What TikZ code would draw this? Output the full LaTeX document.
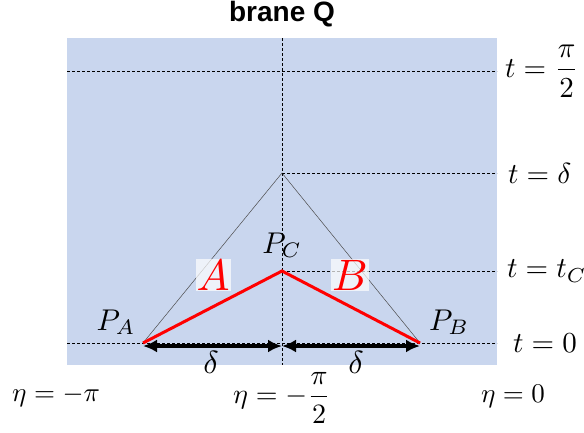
\documentclass[tikz,border=0pt]{standalone}
\usepackage{amsmath}
\usepackage{graphicx}
\usepackage{fontspec}
\newfontfamily\titlefont{Liberation Sans}
\usetikzlibrary{arrows.meta}
\definecolor{bgblue}{RGB}{201,214,238}
\newcommand{\myscm}[2]{\scalebox{#1}{$#2$}}
\tikzset{
  guide/.style={draw=black, line width=0.8pt, dash pattern=on 3pt off 2pt},
  cone/.style={draw=black!70, line width=0.5pt},
  redpath/.style={draw=red, line width=3pt},
  dimarrow/.style={draw=black, line width=3.2pt, {Latex[length=14pt,width=13pt]}-{Latex[length=14pt,width=13pt]}},
  tlabel/.style={anchor=west, inner sep=0pt},
  etalabel/.style={inner sep=0pt},
  plabel/.style={inner sep=0pt},
  seglabel/.style={text=red, fill=white, fill opacity=0.7, text opacity=1, inner sep=1pt},
  dlabel/.style={inner sep=0pt}
}
\begin{document}
\begin{tikzpicture}[x=1pt, y=-1pt]
\useasboundingbox (0,0) rectangle (584,432);
% background
\fill[bgblue] (67,38) rectangle (497,365);
% coordinates
\coordinate (PA) at (143,343);
\coordinate (PB) at (420,343);
\coordinate (PC) at (282,271);
\coordinate (apex) at (282,173);
\coordinate (vtop) at (282,38);
\coordinate (vbot) at (282,365);
\coordinate (h1l) at (67,71);
\coordinate (h1r) at (497,71);
\coordinate (h2r) at (497,173);
\coordinate (h3r) at (497,271);
\coordinate (h4l) at (67,343);
\coordinate (h4r) at (497,343);
\coordinate (aL) at (143,346);
\coordinate (aM) at (282,346);
\coordinate (aR) at (420,346);
% title
\node[font=\titlefont\bfseries\fontsize{28}{32}\selectfont, inner sep=0pt] (title) at (282,14) {brane Q};
% light cone
\draw[cone] (PA) -- (apex) -- (PB);
% arrows
\draw[dimarrow] (aL) -- (aM);
\draw[dimarrow] (aM) -- (aR);
% guides
\draw[guide] (vtop) -- (vbot);
\draw[guide] (h1l) -- (h1r);
\draw[guide] (apex) -- (h2r);
\draw[guide] (PC) -- (h3r);
\draw[guide] (h4l) -- (h4r);
% red path
\draw[redpath, line join=miter] (PA) -- (PC) -- (PB);
% labels
\node[seglabel] (labA) at (213,275) {\myscm{4.4}{A}};
\node[seglabel] (labB) at (350,275) {\myscm{4.4}{B}};
\node[plabel] (lPA) at (116,322) {\myscm{3.0}{P_A}};
\node[plabel] (lPB) at (449,322) {\myscm{3.0}{P_B}};
\node[plabel] (lPC) at (282,245) {\myscm{3.0}{P_C}};
\node[dlabel] (d1) at (211,362) {\myscm{3.2}{\delta}};
\node[dlabel] (d2) at (356,362) {\myscm{3.2}{\delta}};
\node[tlabel] (t1) at (505,71) {\myscm{2.9}{t=\dfrac{\pi}{2}}};
\node[tlabel] (t2) at (508,173) {\myscm{2.9}{t=\delta}};
\node[tlabel] (t3) at (507,271) {\myscm{2.9}{t=t_C}};
\node[tlabel] (t4) at (513,343) {\myscm{2.9}{t=0}};
\node[etalabel] (e1) at (56,396) {\myscm{2.7}{\eta=-\pi}};
\node[etalabel] (e2) at (282,398) {\myscm{2.8}{\eta=-\dfrac{\pi}{2}}};
\node[etalabel] (e3) at (513,396) {\myscm{2.7}{\eta=0}};
\end{tikzpicture}
\end{document}
